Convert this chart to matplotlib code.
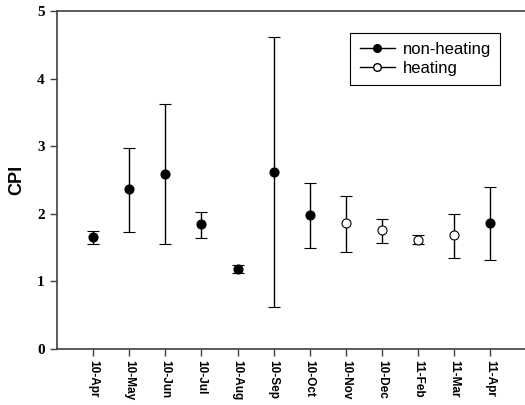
import matplotlib
matplotlib.use('Agg')
from matplotlib import pyplot as plt
from matplotlib.lines import Line2D

months = ['10-Apr', '10-May', '10-Jun', '10-Jul', '10-Aug', '10-Sep',
          '10-Oct', '10-Nov', '10-Dec', '11-Feb', '11-Mar', '11-Apr']
cpi = [1.66, 2.37, 2.59, 1.85, 1.18, 2.62, 1.98, 1.86, 1.76, 1.61, 1.68, 1.86]
cpi_low = [1.56, 1.73, 1.56, 1.65, 1.12, 0.62, 1.50, 1.44, 1.57, 1.55, 1.34, 1.32]
cpi_high = [1.75, 2.98, 3.62, 2.03, 1.24, 4.61, 2.45, 2.26, 1.93, 1.68, 2.00, 2.39]
heating = [False, False, False, False, False, False, False, True, True, True, True, False]


def main():
    fig = plt.figure(figsize=(5.25, 4.05), dpi=100)
    ax = fig.add_axes([0.1086, 0.138, 0.894, 0.835])

    for i, (m, lo, hi, h) in enumerate(zip(cpi, cpi_low, cpi_high, heating)):
        ax.errorbar(i + 1, m, yerr=[[m - lo], [hi - m]], fmt='o',
                    color='black', ecolor='black', elinewidth=1,
                    capsize=4.3, capthick=1, markersize=6.5,
                    markerfacecolor='white' if h else 'black',
                    markeredgecolor='black', markeredgewidth=0.8)

    ax.set_xlim(0, 13)
    ax.set_ylim(0, 5)
    ax.set_xticks(range(1, len(months) + 1))
    ax.set_xticklabels(months, rotation=-90, fontfamily='Liberation Sans',
                       fontweight='bold', fontsize=8.5)
    ax.set_yticks(range(6))
    ax.set_yticklabels([str(v) for v in range(6)], fontfamily='Liberation Serif',
                       fontweight='bold', fontsize=11)
    ax.tick_params(direction='out', length=5, width=1, color='#404040')
    ax.tick_params(axis='x', pad=3)
    ax.tick_params(axis='y', pad=4)
    for s in ax.spines.values():
        s.set_color('#404040')
        s.set_linewidth(1.2)
    ax.set_ylabel('CPI', fontfamily='Liberation Sans', fontweight='bold',
                  fontsize=13, labelpad=8)

    handles = [Line2D([], [], color='black', marker='o', markerfacecolor='black',
                      markersize=5.5, lw=1),
               Line2D([], [], color='black', marker='o', markerfacecolor='white',
                      markersize=5.5, lw=1)]
    leg = ax.legend(handles, ['non-heating', 'heating'], loc='upper left',
                    bbox_to_anchor=(0.625, 0.935), fancybox=False, framealpha=1,
                    edgecolor='black', prop={'family': 'Liberation Sans', 'size': 12},
                    handlelength=2.1, borderpad=0.55, labelspacing=0.25,
                    handletextpad=0.5, borderaxespad=0)
    leg.get_frame().set_linewidth(0.8)

    fig.savefig('out.png', dpi=100)


if __name__ == '__main__':
    main()
